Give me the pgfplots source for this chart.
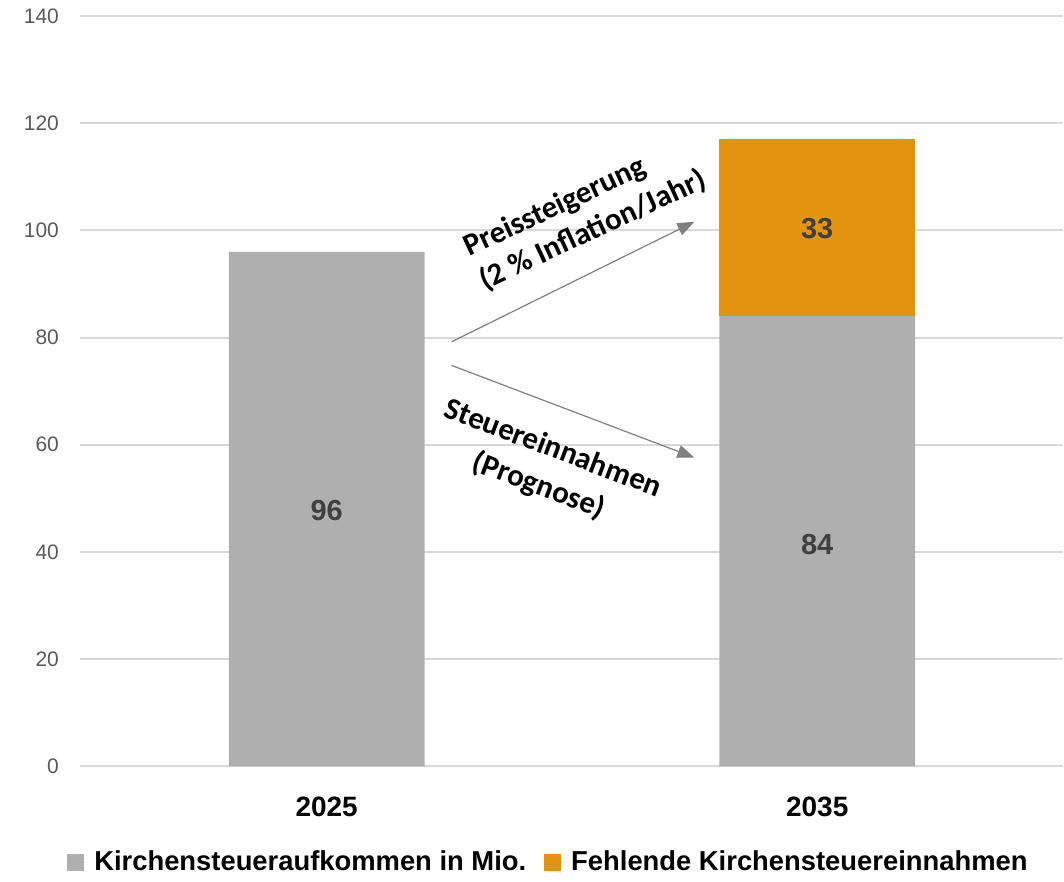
\documentclass[border=0pt]{standalone}
\usepackage{pgfplots}
\pgfplotsset{compat=1.18}
\usepackage{fontspec}
\setmainfont{Liberation Sans}
\newfontfamily\carlito{Carlito}
\usetikzlibrary{arrows.meta}
\definecolor{barGrey}{RGB}{175,175,175}
\definecolor{barOrange}{RGB}{224,148,16}
\definecolor{gridGrey}{RGB}{217,217,217}
\definecolor{tickGrey}{RGB}{89,89,89}
\definecolor{valGrey}{RGB}{64,64,64}
\definecolor{arrowGrey}{RGB}{128,128,128}
\begin{document}
\begin{tikzpicture}
\begin{axis}[
 name=ax,
 scale only axis, width=492pt, height=375.5pt,
 ybar stacked, bar width=98pt,
 xmin=-0.503, xmax=1.501, ymin=0, ymax=140,
 enlarge x limits=false,
 xtick={0,1}, xticklabels={2025,2035},
 ytick={0,20,...,140},
 ymajorgrids, grid style={gridGrey, line width=1pt},
 axis line style={draw=none}, major tick length=0pt,
 /pgf/number format/assume math mode=true,
 yticklabel style={font=\fontsize{10.5}{12}\selectfont, text=tickGrey, anchor=east, xshift=-7pt},
 xticklabel style={font=\fontsize{14}{16}\selectfont\bfseries, text=black, yshift=-12pt},
 legend style={at={(0.4776,-0.1278)}, anchor=center, draw=none, legend columns=2,
   font=\fontsize{13.7}{16}\selectfont\bfseries,
   /tikz/every even column/.append style={column sep=7pt}},
 legend cell align=left,
]
\addplot[fill=barGrey, draw=none,
  legend image code/.code={\fill[barGrey] (0pt,-4.25pt) rectangle (8.5pt,4.25pt); \path (0pt,0pt) -- (11.5pt,0pt);}]
  coordinates {(0,96) (1,84)};
\addlegendentry{Kirchensteueraufkommen in Mio.}
\addplot[fill=barOrange, draw=none,
  legend image code/.code={\fill[barOrange] (0pt,-4.25pt) rectangle (8.5pt,4.25pt); \path (0pt,0pt) -- (11.5pt,0pt);}]
  coordinates {(0,0) (1,33)};
\addlegendentry{Fehlende Kirchensteuereinnahmen}

\coordinate (v96) at (axis cs:0,47.7);
\coordinate (v84) at (axis cs:1,41.4);
\coordinate (v33) at (axis cs:1,100.3);

\draw[arrowGrey, line width=0.6pt, -{Triangle[length=8.5pt,width=6.5pt]}] (axis cs:0.2546,79.2) -- (axis cs:0.7495,101.6);
\draw[arrowGrey, line width=0.6pt, -{Triangle[length=8.5pt,width=6.5pt]}] (axis cs:0.2546,74.8) -- (axis cs:0.7495,57.6);

\node[rotate=25, anchor=west, align=left, font=\carlito\bfseries\fontsize{15.5}{18.5}\selectfont] at (axis cs:0.2868,92.8) {Preissteigerung\\(2 \% Inflation/Jahr)};
\node[rotate=-20.7, align=center, font=\carlito\bfseries\fontsize{15.5}{20}\selectfont] at (axis cs:0.4466,55.7) {Steuereinnahmen\\(Prognose)};
\end{axis}
\node[font=\fontsize{14.5}{16}\selectfont\bfseries, text=valGrey] at (v96) {96};
\node[font=\fontsize{14.5}{16}\selectfont\bfseries, text=valGrey] at (v84) {84};
\node[font=\fontsize{14.5}{16}\selectfont\bfseries, text=valGrey] at (v33) {33};
\path ([xshift=-40pt,yshift=-53.5pt]ax.south west) rectangle ([yshift=8pt]ax.north east);
\end{tikzpicture}
\end{document}
